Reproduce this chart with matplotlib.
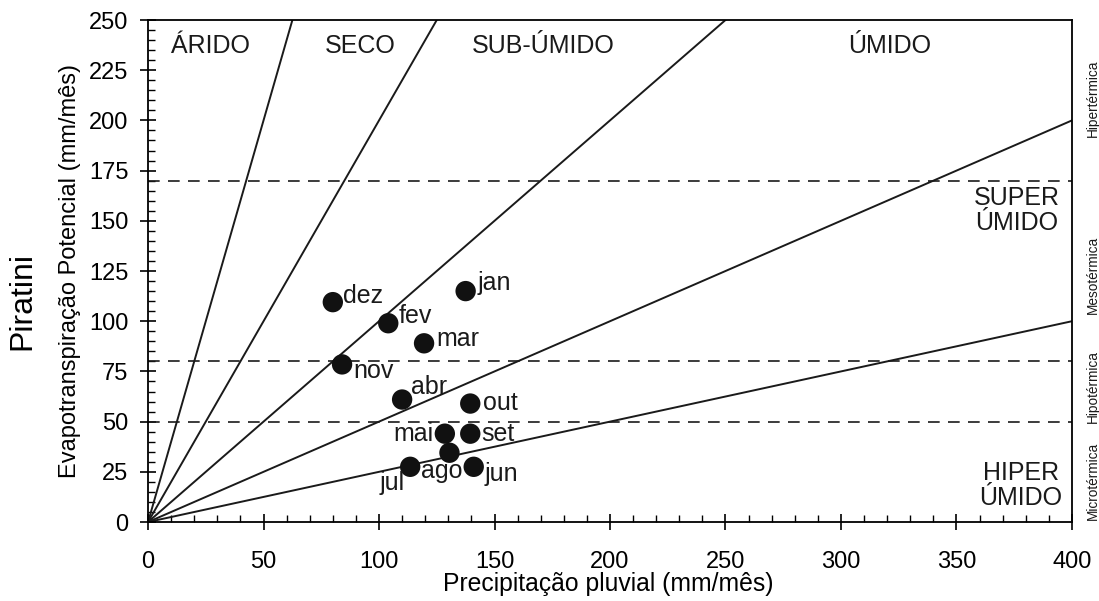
import matplotlib
matplotlib.use("Agg")
import matplotlib.pyplot as plt
from matplotlib.ticker import MultipleLocator
import numpy as np

plt.rcParams['font.family'] = ['Liberation Sans', 'DejaVu Sans']

# monthly precipitation (x) and potential evapotranspiration (y), mm/month
months = ['jan', 'fev', 'mar', 'abr', 'mai', 'jun', 'jul', 'ago', 'set', 'out', 'nov', 'dez']
precip = [137.5, 104, 119.5, 110, 128.5, 141, 113.5, 130.5, 139.5, 139.5, 84, 80]
etp = [115, 99, 89, 61, 44, 27.5, 27.5, 34.5, 44, 59, 78.5, 109.5]

# climate boundaries: ETP/P ratios and thermal limits
ratios = [4, 2, 1, 0.5, 0.25]
thermal_limits = [170, 80, 50]

# label offsets in pixels (dx, dy, ha)
offsets = {
    'jan': (12, 8, 'left'), 'fev': (10, 7, 'left'), 'mar': (12, 4, 'left'),
    'abr': (9, 13, 'left'), 'mai': (-11, 0, 'right'), 'jun': (11, -7, 'left'),
    'jul': (-18, -16, 'center'), 'ago': (-8, -18, 'center'), 'set': (11, 0, 'left'),
    'out': (13, 1, 'left'), 'nov': (11, -7, 'left'), 'dez': (10, 6, 'left'),
}

fig = plt.figure(figsize=(10.99, 6.01), dpi=100)
ax = fig.add_axes([0.1347, 0.1314, 0.8407, 0.8353])

xs = np.array([0, 400])
for r in ratios:
    ax.plot(xs, r * xs, color='#1a1a1a', lw=1.4, zorder=2)
for h in thermal_limits:
    ax.axhline(h, color='#1a1a1a', lw=1.2, ls=(0, (7, 5)), zorder=2)

ax.scatter(precip, etp, s=215, color='#111111', zorder=3, edgecolors='none')
for m, x, y in zip(months, precip, etp):
    dx, dy, ha = offsets[m]
    ax.annotate(m, (x, y), xytext=(dx, dy), textcoords='offset pixels',
                ha=ha, va='center', fontsize=18, color='#1a1a1a')

# climate zone names
zone_kw = dict(ha='center', va='center', fontsize=18, color='#1a1a1a')
ax.text(27, 237, 'ÁRIDO', **zone_kw)
ax.text(92, 237, 'SECO', **zone_kw)
ax.text(171, 237, 'SUB-ÚMIDO', **zone_kw)
ax.text(321, 237, 'ÚMIDO', **zone_kw)
ax.text(376, 155, 'SUPER\nÚMIDO', linespacing=1.05, **zone_kw)
ax.text(378, 18, 'HIPER\nÚMIDO', linespacing=1.05, **zone_kw)

# thermal bands on the right
for label, yc in [('Hipertérmica', 211), ('Mesotérmica', 123),
                  ('Hipotérmica', 67.5), ('Microtérmica', 20.5)]:
    ax.text(1.023, yc, label, transform=ax.get_yaxis_transform(), rotation=90,
            ha='center', va='center', fontsize=9.8, color='#1a1a1a')

ax.set_xlim(0, 400)
ax.set_ylim(0, 250)
ax.xaxis.set_major_locator(MultipleLocator(50))
ax.xaxis.set_minor_locator(MultipleLocator(10))
ax.yaxis.set_major_locator(MultipleLocator(25))
ax.yaxis.set_minor_locator(MultipleLocator(5))
ax.tick_params(which='major', direction='inout', length=12, width=1.2, labelsize=17, pad=8)
ax.tick_params(axis='x', which='major', pad=15)
ax.tick_params(which='minor', direction='in', length=5, width=1.0)
for s in ax.spines.values():
    s.set_linewidth(1.3)

ax.set_xlabel('Precipitação pluvial (mm/mês)', fontsize=17.8)
ax.xaxis.set_label_coords(0.498, -0.1)
ax.set_ylabel('Evapotranspiração Potencial (mm/mês)', fontsize=17, labelpad=6)
fig.text(0.02, 0.5, 'Piratini', rotation=90, ha='center', va='center', fontsize=23)

fig.savefig('out.png', dpi=100)
